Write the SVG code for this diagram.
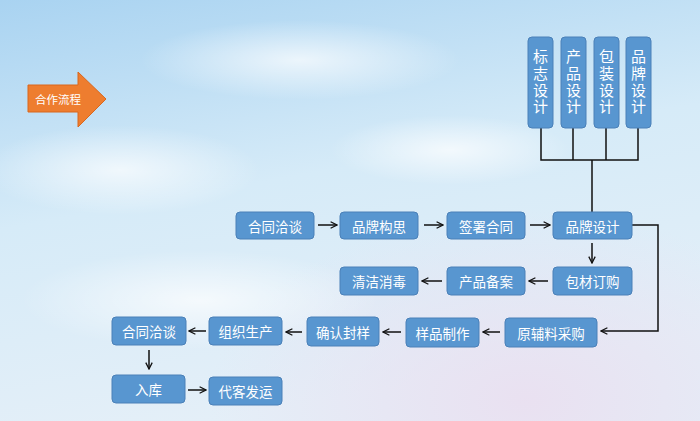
<svg xmlns="http://www.w3.org/2000/svg" width="700" height="421" viewBox="0 0 700 421">
<defs>
<linearGradient id="bg" x1="0" y1="0" x2="0.3" y2="1">
<stop offset="0" stop-color="#a9d3f1"/>
<stop offset="0.5" stop-color="#d6ebf8"/>
<stop offset="1" stop-color="#e4eff8"/>
</linearGradient>
<radialGradient id="pink" cx="0.75" cy="0.95" r="0.45">
<stop offset="0" stop-color="#eadff0" stop-opacity="0.9"/>
<stop offset="1" stop-color="#eadff0" stop-opacity="0"/>
</radialGradient>
<radialGradient id="cloud">
<stop offset="0" stop-color="#ffffff" stop-opacity="0.7"/>
<stop offset="1" stop-color="#ffffff" stop-opacity="0"/>
</radialGradient>
<marker id="ah" viewBox="0 0 10 10" refX="9" refY="5" markerWidth="8" markerHeight="8" markerUnits="userSpaceOnUse" orient="auto">
<path d="M1,1 L9,5 L1,9" fill="none" stroke="#111" stroke-width="1.6"/>
</marker>
<style>
.box{fill:#5896d0;stroke:#4a80b8;stroke-width:1}
.t{font-family:"Noto Sans CJK SC","Noto Sans",sans-serif;font-size:13.5px;fill:#fff;text-anchor:middle;dominant-baseline:central}
.vt{font-family:"Noto Sans CJK SC","Noto Sans",sans-serif;font-size:15px;fill:#fff;writing-mode:vertical-rl;text-orientation:upright;letter-spacing:1.7px}
.c{fill:none;stroke:#111;stroke-width:1.5}
.a{fill:none;stroke:#111;stroke-width:1.5;marker-end:url(#ah)}
</style>
</defs>
<rect width="700" height="421" fill="url(#bg)"/>
<rect width="700" height="421" fill="url(#pink)"/>
<ellipse cx="300" cy="60" rx="160" ry="40" fill="url(#cloud)"/>
<ellipse cx="120" cy="170" rx="140" ry="45" fill="url(#cloud)"/>
<ellipse cx="450" cy="150" rx="120" ry="35" fill="url(#cloud)"/>
<ellipse cx="200" cy="300" rx="180" ry="50" fill="url(#cloud)"/>

<g id="title">
<path d="M28,85 L78,85 L78,72 L106,99 L78,127 L78,112 L28,112 Z" fill="#ee7d2f" stroke="#d9661c" stroke-width="1"/>
<text class="t" x="58" y="99" style="font-size:11.5px">合作流程</text>
</g>

<g id="connectors">
<polyline class="c" points="541,128 541,160 638,160 638,128"/>
<line class="c" x1="573" y1="128" x2="573" y2="160"/>
<line class="c" x1="606" y1="128" x2="606" y2="160"/>
<line class="c" x1="592" y1="160" x2="592" y2="212"/>
<line class="a" x1="318" y1="225" x2="337" y2="225"/>
<line class="a" x1="424" y1="225" x2="443" y2="225"/>
<line class="a" x1="530" y1="225" x2="550" y2="225"/>
<line class="a" x1="592" y1="243" x2="592" y2="263"/>
<line class="a" x1="548" y1="281" x2="529" y2="281"/>
<line class="a" x1="442" y1="281" x2="422" y2="281"/>
<polyline class="a" points="632,225 658,225 658,331 601,331"/>
<line class="a" x1="500" y1="332" x2="483" y2="332"/>
<line class="a" x1="401" y1="332" x2="383" y2="332"/>
<line class="a" x1="302" y1="332" x2="286" y2="332"/>
<line class="a" x1="206" y1="331" x2="189" y2="331"/>
<line class="a" x1="149" y1="350" x2="149" y2="369"/>
<line class="a" x1="188" y1="390" x2="206" y2="390"/>
</g>

<g id="n-biaozhi"><rect class="box" x="528" y="37" width="25" height="91" rx="4"/>
<text class="vt" x="540.5" y="49">标志设计</text></g>
<g id="n-chanpin"><rect class="box" x="561" y="37" width="25" height="91" rx="4"/>
<text class="vt" x="573.5" y="49">产品设计</text></g>
<g id="n-baozhuang"><rect class="box" x="594" y="37" width="25" height="91" rx="4"/>
<text class="vt" x="606.5" y="49">包装设计</text></g>
<g id="n-pinpai"><rect class="box" x="626" y="37" width="25" height="91" rx="4"/>
<text class="vt" x="638.5" y="49">品牌设计</text></g>

<g id="n1"><rect class="box" x="236" y="212" width="78" height="27" rx="4"/><text class="t" x="275" y="225.5">合同洽谈</text></g>
<g id="n2"><rect class="box" x="340" y="212" width="78" height="27" rx="4"/><text class="t" x="379" y="225.5">品牌构思</text></g>
<g id="n3"><rect class="box" x="447" y="212" width="78" height="27" rx="4"/><text class="t" x="486" y="225.5">签署合同</text></g>
<g id="n4"><rect class="box" x="553" y="212" width="79" height="27" rx="4"/><text class="t" x="592.5" y="225.5">品牌设计</text></g>
<g id="n5"><rect class="box" x="553" y="267" width="79" height="28" rx="4"/><text class="t" x="592.5" y="281">包材订购</text></g>
<g id="n6"><rect class="box" x="447" y="267" width="78" height="28" rx="4"/><text class="t" x="486" y="281">产品备案</text></g>
<g id="n7"><rect class="box" x="340" y="267" width="78" height="28" rx="4"/><text class="t" x="379" y="281">清洁消毒</text></g>
<g id="n8"><rect class="box" x="505" y="318" width="92" height="29" rx="4"/><text class="t" x="551" y="332.5">原辅料采购</text></g>
<g id="n9"><rect class="box" x="406" y="318" width="73" height="29" rx="4"/><text class="t" x="442.5" y="332.5">样品制作</text></g>
<g id="n10"><rect class="box" x="307" y="317" width="72" height="29" rx="4"/><text class="t" x="343" y="331.5">确认封样</text></g>
<g id="n11"><rect class="box" x="209" y="317" width="73" height="28" rx="4"/><text class="t" x="245.5" y="331">组织生产</text></g>
<g id="n12"><rect class="box" x="112" y="317" width="74" height="28" rx="4"/><text class="t" x="149" y="331">合同洽谈</text></g>
<g id="n13"><rect class="box" x="112" y="375" width="73" height="28" rx="4"/><text class="t" x="148.5" y="389">入库</text></g>
<g id="n14"><rect class="box" x="209" y="377" width="73" height="28" rx="4"/><text class="t" x="245.5" y="391">代客发运</text></g>
</svg>
